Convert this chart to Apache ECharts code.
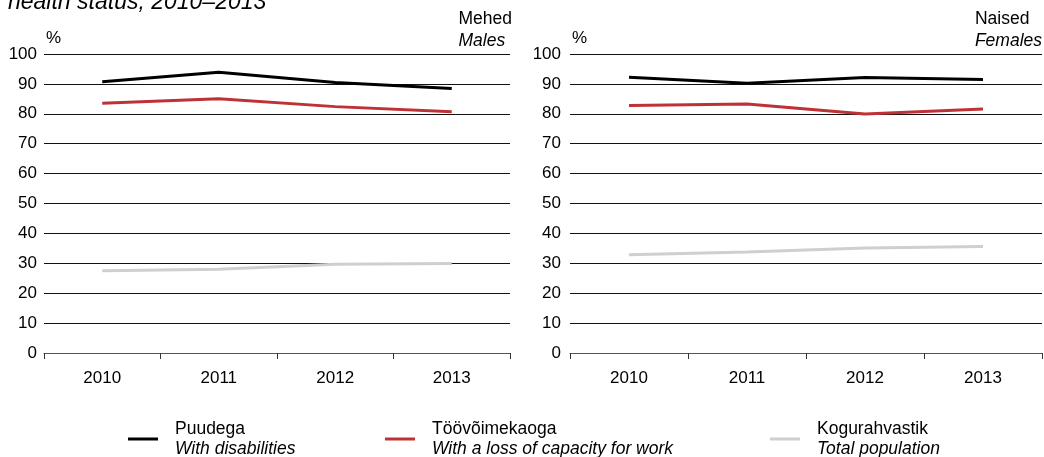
<!DOCTYPE html>
<html>
<head>
<meta charset="utf-8">
<script src="https://cdn.jsdelivr.net/npm/echarts@6/dist/echarts.min.js"></script>
<style>
  html, body { margin: 0; padding: 0; background: #fff; }
  #chart { width: 1044px; height: 457px; }
</style>
</head>
<body>
<div id="chart"></div>
<script>
// Years on the category axis
const years = ['2010', '2011', '2012', '2013'];
const yTicks = [0, 10, 20, 30, 40, 50, 60, 70, 80, 90, 100];

// Males, %
const malesDisabled = [90.7, 93.9, 90.5, 88.5];
const malesLossCapacity = [83.5, 85.0, 82.4, 80.7];
const malesTotal = [27.5, 28.0, 29.7, 29.9];

// Females, %
const femalesDisabled = [92.2, 90.2, 92.1, 91.5];
const femalesLossCapacity = [82.8, 83.3, 79.9, 81.6];
const femalesTotal = [32.9, 33.8, 35.1, 35.6];

const seriesNames = [
  'Puudega\n{i|With disabilities}',
  'Töövõimekaoga\n{i|With a loss of capacity for work}',
  'Kogurahvastik\n{i|Total population}'
];
const seriesColors = ['#000000', '#be3236', '#cfcfcf'];

const FONT = 'Liberation Sans, Arial, sans-serif';

const chart = echarts.init(document.getElementById('chart'), null, { renderer: 'canvas' });

function xAxis(gridIndex) {
  return {
    type: 'category',
    gridIndex: gridIndex,
    data: years,
    boundaryGap: true,
    axisLine: { show: true, lineStyle: { color: '#555', width: 1 } },
    axisTick: { show: true, length: 6, inside: false, lineStyle: { color: '#333' } },
    axisLabel: { color: '#000', fontSize: 17, fontFamily: FONT, margin: 17 },
    splitLine: { show: false }
  };
}

function yAxis(gridIndex, margin) {
  return {
    type: 'value',
    gridIndex: gridIndex,
    min: 0,
    max: 100,
    interval: 10,
    axisLine: { show: false },
    axisTick: { show: false },
    axisLabel: {
      color: '#000', fontSize: 17, fontFamily: FONT, margin: margin,
      formatter: v => (yTicks.indexOf(v) >= 0 ? String(v) : '')
    },
    splitLine: { show: true, lineStyle: { color: '#111', width: 1 } }
  };
}

function lineSeries(nameIdx, data, gridIndex) {
  return {
    name: seriesNames[nameIdx],
    type: 'line',
    xAxisIndex: gridIndex,
    yAxisIndex: gridIndex,
    data: data,
    symbol: 'none',
    smooth: false,
    z: 10 - nameIdx,
    lineStyle: { color: seriesColors[nameIdx], width: 3 },
    itemStyle: { color: seriesColors[nameIdx] },
    emphasis: { disabled: true },
    animation: false
  };
}

function legendAt(left, idx) {
  return {
    left: left,
    top: 419,
    padding: 0,
    orient: 'horizontal',
    data: [seriesNames[idx]],
    icon: 'rect',
    itemWidth: 30,
    itemHeight: 3,
    itemGap: 0,
    selectedMode: false,
    textStyle: {
      color: '#000', fontSize: 17.5, fontFamily: FONT, lineHeight: 20, padding: [0, 0, 0, 12],
      rich: { i: { fontStyle: 'italic', fontSize: 17.5, fontFamily: FONT, lineHeight: 20 } }
    }
  };
}

const option = {
  backgroundColor: '#ffffff',
  animation: false,
  textStyle: { fontFamily: FONT },
  grid: [
    { left: 44, right: 534, top: 54, bottom: 104, containLabel: false },
    { left: 570, right: 2, top: 54, bottom: 104, containLabel: false }
  ],
  xAxis: [xAxis(0), xAxis(1)],
  yAxis: [yAxis(0, 7), yAxis(1, 9)],
  legend: [legendAt(128, 0), legendAt(385, 1), legendAt(770, 2)],
  graphic: [
    { type: 'text', left: 8, top: -9,
      style: { text: 'health status, 2010–2013', fontSize: 23, fontStyle: 'italic', fontFamily: FONT, fill: '#000' } },
    { type: 'text', left: 46, top: 30,
      style: { text: '%', fontSize: 17, fontFamily: FONT, fill: '#000' } },
    { type: 'text', left: 572, top: 30,
      style: { text: '%', fontSize: 17, fontFamily: FONT, fill: '#000' } },
    { type: 'text', right: 532, top: 8,
      style: { text: 'Mehed\n{i|Males}', fontSize: 17.5, lineHeight: 22, fontFamily: FONT, fill: '#000', align: 'right',
        rich: { i: { fontStyle: 'italic', fontSize: 17.5, lineHeight: 22, fontFamily: FONT, fill: '#000' } } } },
    { type: 'text', right: 2, top: 8,
      style: { text: 'Naised\n{i|Females}', fontSize: 17.5, lineHeight: 22, fontFamily: FONT, fill: '#000', align: 'right',
        rich: { i: { fontStyle: 'italic', fontSize: 17.5, lineHeight: 22, fontFamily: FONT, fill: '#000' } } } }
  ],
  series: [
    lineSeries(2, malesTotal, 0),
    lineSeries(1, malesLossCapacity, 0),
    lineSeries(0, malesDisabled, 0),
    lineSeries(2, femalesTotal, 1),
    lineSeries(1, femalesLossCapacity, 1),
    lineSeries(0, femalesDisabled, 1)
  ]
};

chart.setOption(option);
</script>
</body>
</html>
